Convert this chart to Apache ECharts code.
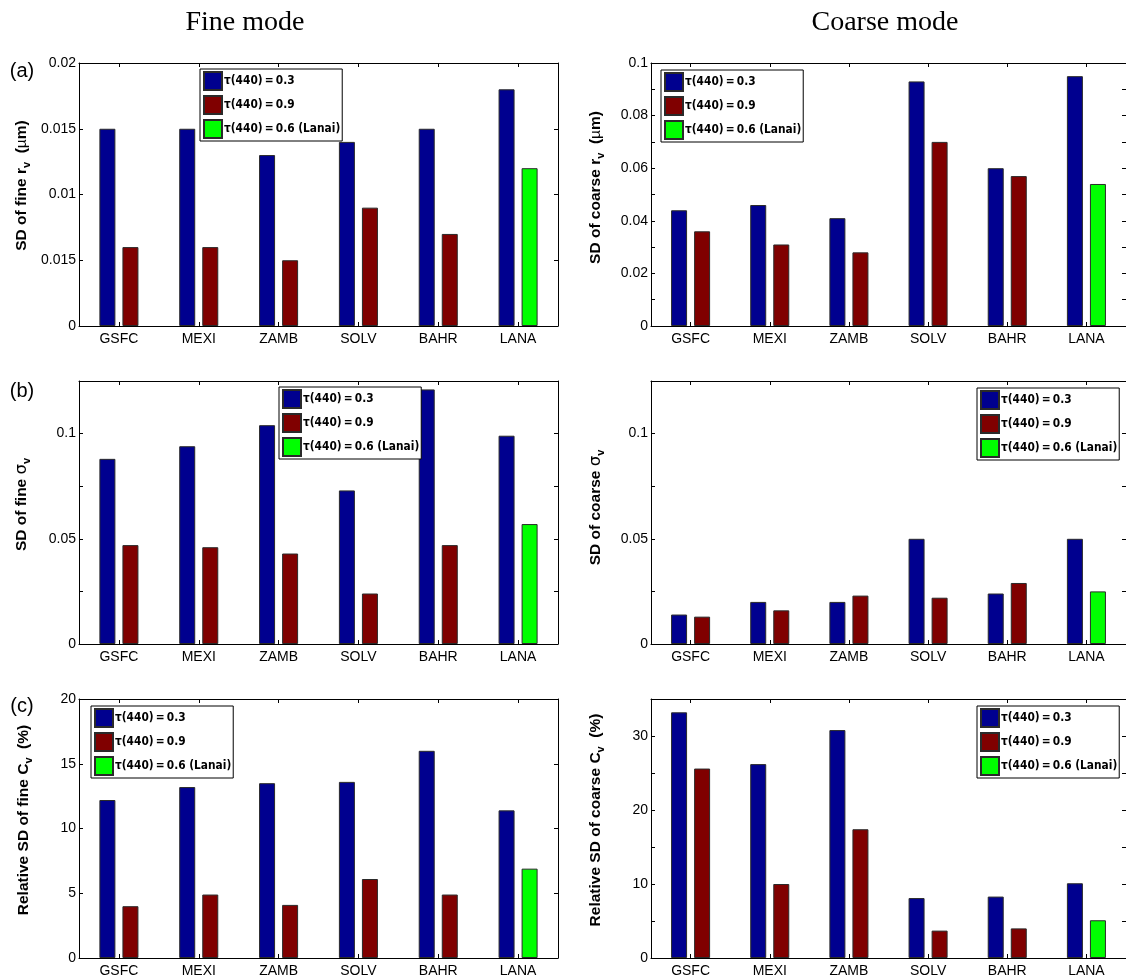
<!DOCTYPE html>
<html>
<head>
<meta charset="utf-8">
<script src="https://cdn.jsdelivr.net/npm/echarts@6/dist/echarts.min.js"></script>
<style>html,body{margin:0;padding:0;background:#fff}#c{width:1126px;height:978px}</style>
</head>
<body>
<div id="c"></div>
<script>
// ---------- data ----------
const categories = ['GSFC', 'MEXI', 'ZAMB', 'SOLV', 'BAHR', 'LANA'];
const seriesNames = ['τ(440)\u2009=\u20090.3', 'τ(440)\u2009=\u20090.9', 'τ(440)\u2009=\u20090.6 (Lanai)'];

// (a) fine r_v
const fineRvTau03 = [0.015, 0.015, 0.013, 0.014, 0.015, 0.018];
const fineRvTau09 = [0.006, 0.006, 0.005, 0.009, 0.007, null];
const fineRvLanai = [null, null, null, null, null, 0.012];
const fineRvTicks = ['0', '0.015', '0.01', '0.015', '0.02'];
// (a) coarse r_v
const coarseRvTau03 = [0.044, 0.046, 0.041, 0.093, 0.060, 0.095];
const coarseRvTau09 = [0.036, 0.031, 0.028, 0.070, 0.057, null];
const coarseRvLanai = [null, null, null, null, null, 0.054];
const coarseRvTicks = ['0', '', '0.02', '', '0.04', '', '0.06', '', '0.08', '', '0.1'];
// (b) fine sigma
const fineSigTau03 = [0.088, 0.094, 0.104, 0.073, 0.121, 0.099];
const fineSigTau09 = [0.047, 0.046, 0.043, 0.024, 0.047, null];
const fineSigLanai = [null, null, null, null, null, 0.057];
const fineSigTicks = ['0', '', '0.05', '', '0.1', ''];
// (b) coarse sigma
const coarseSigTau03 = [0.014, 0.020, 0.020, 0.050, 0.024, 0.050];
const coarseSigTau09 = [0.013, 0.016, 0.023, 0.022, 0.029, null];
const coarseSigLanai = [null, null, null, null, null, 0.025];
const coarseSigTicks = ['0', '', '0.05', '', '0.1', ''];
// (c) fine Cv
const fineCvTau03 = [12.2, 13.2, 13.5, 13.6, 16.0, 11.4];
const fineCvTau09 = [4.0, 4.9, 4.1, 6.1, 4.9, null];
const fineCvLanai = [null, null, null, null, null, 6.9];
const fineCvTicks = ['0', '5', '10', '15', '20'];
// (c) coarse Cv
const coarseCvTau03 = [33.2, 26.2, 30.8, 8.1, 8.3, 10.1];
const coarseCvTau09 = [25.6, 10.0, 17.4, 3.7, 4.0, null];
const coarseCvLanai = [null, null, null, null, null, 5.1];
const coarseCvTicks = ['0', '', '10', '', '20', '', '30', ''];

// ---------- layout / styling ----------
const COLORS = ['#00008f', '#800000', '#00ff00'];
const LEFTS = [79, 651];
const WIDTHS = [479, 480];
const TOPS = [63, 381, 699];
const HEIGHT = 263;

const panels = [
  {row: 0, col: 0, d: [fineRvTau03, fineRvTau09, fineRvLanai], max: 0.02, step: 0.005, ticks: fineRvTicks,
   name: '{b|SD of fine r}{s|v}{b|  (}{n|µ}{b|m)}', gap: 47, shift: 18, legend: [200, 69]},
  {row: 0, col: 1, d: [coarseRvTau03, coarseRvTau09, coarseRvLanai], max: 0.1, step: 0.01, ticks: coarseRvTicks,
   name: '{b|SD of coarse r}{s|v}{b|  (}{n|µ}{b|m)}', gap: 45, shift: 14, legend: [661, 70]},
  {row: 1, col: 0, d: [fineSigTau03, fineSigTau09, fineSigLanai], max: 0.125, step: 0.025, ticks: fineSigTicks,
   name: '{b|SD of fine }{g|σ}{s|v}', gap: 47, shift: 16, legend: [279, 387]},
  {row: 1, col: 1, d: [coarseSigTau03, coarseSigTau09, coarseSigLanai], max: 0.125, step: 0.025, ticks: coarseSigTicks,
   name: '{b|SD of coarse }{g|σ}{s|v}', gap: 45, shift: 10, legend: [977, 388]},
  {row: 2, col: 0, d: [fineCvTau03, fineCvTau09, fineCvLanai], max: 20, step: 5, ticks: fineCvTicks,
   name: '{b|Relative SD of fine C}{s|v}{b|  (%)}', gap: 45, shift: 17, legend: [91, 706]},
  {row: 2, col: 1, d: [coarseCvTau03, coarseCvTau09, coarseCvLanai], max: 35, step: 5, ticks: coarseCvTicks,
   name: '{b|Relative SD of coarse C}{s|v}{b|  (%)}', gap: 45, shift: 17, legend: [977, 706]}
];

const tickFont = {fontFamily: 'Liberation Sans', fontSize: 14, color: '#000'};
const nameRich = {
  b: {fontFamily: 'Liberation Sans', fontWeight: 'bold', fontSize: 15.5, color: '#000'},
  n: {fontFamily: 'Liberation Sans', fontSize: 15.5, color: '#000'},
  g: {fontFamily: 'DejaVu Sans', fontSize: 16.5, color: '#000'},
  s: {fontFamily: 'Liberation Sans', fontWeight: 'bold', fontSize: 11, color: '#000', padding: [10, 0, 0, 0]}
};
const toData = arr => arr.map(v => (v === null ? '-' : v));

const grid = [], xAxis = [], yAxis = [], series = [], legend = [];
panels.forEach((p, i) => {
  grid.push({left: LEFTS[p.col], width: WIDTHS[p.col], top: TOPS[p.row], height: HEIGHT,
             show: false, containLabel: false});
  const axLine = {show: true, onZero: false, lineStyle: {color: '#000', width: 1}};
  const tick = {show: true, inside: true, length: 4, alignWithLabel: true, lineStyle: {color: '#000', width: 1}};
  xAxis.push({type: 'category', gridIndex: i, data: categories, position: 'bottom',
              axisLine: axLine, axisTick: tick,
              axisLabel: Object.assign({margin: 6}, tickFont), splitLine: {show: false}});
  xAxis.push({type: 'category', gridIndex: i, data: categories, position: 'top',
              axisLine: axLine, axisTick: tick, axisLabel: {show: false}, splitLine: {show: false}});
  const labels = p.ticks;
  yAxis.push({type: 'value', gridIndex: i, min: 0, max: p.max, interval: p.step, position: 'left',
              axisLine: axLine, axisTick: {show: true, inside: true, length: 4, lineStyle: {color: '#000'}},
              axisLabel: Object.assign({margin: 3, formatter: (v, idx) => labels[idx] !== undefined ? labels[idx] : ''}, tickFont),
              splitLine: {show: false},
              name: p.name, nameLocation: 'middle', nameGap: p.gap, nameRotate: 90,
              nameTextStyle: {rich: nameRich, padding: [0, 0, 0, p.shift]}});
  yAxis.push({type: 'value', gridIndex: i, min: 0, max: p.max, interval: p.step, position: 'right',
              axisLine: axLine, axisTick: {show: true, inside: true, length: 4, lineStyle: {color: '#000'}},
              axisLabel: {show: false}, splitLine: {show: false}});
  p.d.forEach((arr, k) => {
    const s = {
      type: 'bar', name: seriesNames[k], xAxisIndex: 2 * i, yAxisIndex: 2 * i,
      data: toData(arr), barWidth: 16, barGap: '44%',
      itemStyle: {color: COLORS[k], borderColor: '#2a2a2a', borderWidth: 1},
      emphasis: {disabled: true}
    };
    if (k > 0) s.stack = 'pair' + i;
    series.push(s);
  });
  legend.push({
    data: seriesNames, orient: 'vertical', left: p.legend[0], top: p.legend[1],
    itemWidth: 18, itemHeight: 18, itemGap: 4, padding: [2, 2, 2, 3],
    borderColor: '#000', borderWidth: 1, backgroundColor: '#fff',
    icon: 'rect',
    textStyle: {fontFamily: 'DejaVu Sans Condensed', fontWeight: 'bold', fontSize: 11.8, color: '#000', padding: [0, 0, 0, -3]}
  });
});

const graphic = [
  {type: 'text', x: 245, y: 23, style: {text: 'Fine mode', font: '28px "Liberation Serif"', fill: '#000', align: 'center', verticalAlign: 'middle'}},
  {type: 'text', x: 885, y: 23, style: {text: 'Coarse mode', font: '28px "Liberation Serif"', fill: '#000', align: 'center', verticalAlign: 'middle'}},
  {type: 'text', x: 22, y: 71, style: {text: '(a)', font: '20px "Liberation Sans"', fill: '#000', align: 'center', verticalAlign: 'middle'}},
  {type: 'text', x: 22, y: 391, style: {text: '(b)', font: '20px "Liberation Sans"', fill: '#000', align: 'center', verticalAlign: 'middle'}},
  {type: 'text', x: 22, y: 706, style: {text: '(c)', font: '20px "Liberation Sans"', fill: '#000', align: 'center', verticalAlign: 'middle'}}
];

const chart = echarts.init(document.getElementById('c'), null, {renderer: 'canvas'});
chart.setOption({animation: false, grid, xAxis, yAxis, series, legend, graphic});
</script>
</body>
</html>
